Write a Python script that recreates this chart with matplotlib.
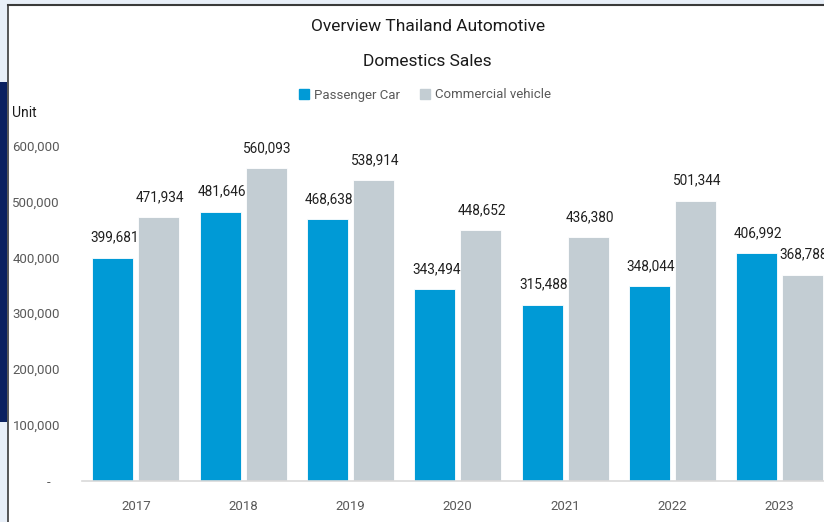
import matplotlib
matplotlib.use('Agg')
import matplotlib.pyplot as plt
from matplotlib.patches import Rectangle, Patch
from matplotlib.lines import Line2D
import numpy as np

# domestic sales by year (units)
years = ['2017', '2018', '2019', '2020', '2021', '2022', '2023']
passenger = [399681, 481646, 468638, 343494, 315488, 348044, 406992]
commercial = [471934, 560093, 538914, 448652, 436380, 501344, 368788]
yticks = [0, 100000, 200000, 300000, 400000, 500000, 600000]

c_pass = '#009ad6'
c_comm = '#c3cdd3'
c_tick = '#595959'
c_lab = '#202020'

plt.rcParams['font.family'] = ['Roboto', 'DejaVu Sans']

W, H = 824, 522
fig = plt.figure(figsize=(W / 100, H / 100), dpi=100)
fig.patch.set_facecolor('white')

# page background / frame pieces
bg = '#e8eff8'
fig.add_artist(Rectangle((0, 1 - 4.5 / H), 1, 4.5 / H, transform=fig.transFigure,
                         color=bg, lw=0, zorder=0))
fig.add_artist(Rectangle((0, 0), 8 / W, 1, transform=fig.transFigure,
                         color=bg, lw=0, zorder=0))
fig.add_artist(Rectangle((0, 1 - 421.7 / H), 7.5 / W, (421.7 - 81.7) / H,
                         transform=fig.transFigure, color='#0b2160', lw=0, zorder=1))
fig.add_artist(Line2D([8 / W, 1], [1 - 5 / H, 1 - 5 / H], transform=fig.transFigure,
                      color='#3a3a3a', lw=1.5, zorder=2))
fig.add_artist(Line2D([8.3 / W, 8.3 / W], [0, 1 - 5 / H], transform=fig.transFigure,
                      color='#3a3a3a', lw=1.2, zorder=2))

ax = fig.add_axes([82.25 / W, 41.3 / H, 751.1 / W, 335 / H])
ax.set_facecolor('none')

x = np.arange(len(years))
bw = 0.382
off = 0.2145
b1 = ax.bar(x - off, passenger, bw, color=c_pass, edgecolor='white', lw=0.6)
b2 = ax.bar(x + off, commercial, bw, color=c_comm, edgecolor='white', lw=0.6)

# value labels above each bar (last one runs off the right edge)
for bars, vals in ((b1, passenger), (b2, commercial)):
    for r, v in zip(bars, vals):
        ax.annotate(f'{v:,}', (r.get_x() + r.get_width() / 2, v),
                    xytext=(1, 14.4), textcoords='offset points', ha='center',
                    va='center', fontsize=9.8, color=c_lab, annotation_clip=False)

ax.set_xlim(-0.5, 6.5)
ax.set_ylim(0, 600000)
ax.set_xticks(x)
ax.set_xticklabels(years)
ax.set_yticks(yticks)
ax.set_yticklabels(['-   ' if v == 0 else f'{v:,}' for v in yticks])
ax.tick_params(axis='both', length=0, colors=c_tick, labelsize=9.5)
ax.tick_params(axis='y', pad=16)
ax.tick_params(axis='x', pad=14)
for s in ('top', 'right', 'left'):
    ax.spines[s].set_visible(False)
ax.spines['bottom'].set_color('#d9d9d9')
ax.spines['bottom'].set_linewidth(1.2)

fig.text(428 / W, 1 - 26.7 / H, 'Overview Thailand Automotive', ha='center', va='center',
         fontsize=12.5, color='#1a1a1a')
fig.text(427 / W, 1 - 61.7 / H, 'Domestics Sales', ha='center', va='center',
         fontsize=12.5, color='#1a1a1a')
fig.text(12 / W, 1 - 112.7 / H, 'Unit', ha='left', va='center', fontsize=10,
         color='#1a1a1a')

handles = [Patch(color=c_pass, label='Passenger Car'),
           Patch(color=c_comm, label='Commercial vehicle')]
fig.legend(handles=handles, loc='center', bbox_to_anchor=(425 / W, 1 - 95 / H),
           ncol=2, frameon=False, handlelength=0.75, handleheight=0.75,
           handletextpad=0.4, columnspacing=1.5, fontsize=9.5, labelcolor=c_tick)

fig.savefig('out.png', dpi=100)
